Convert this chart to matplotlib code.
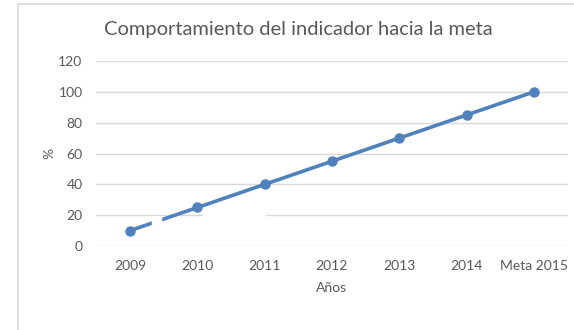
import matplotlib
matplotlib.use("Agg")
import matplotlib.pyplot as plt
from matplotlib.patches import Rectangle
from matplotlib.lines import Line2D

# indicator progress per year, last point is the 2015 target
years = ["2009", "2010", "2011", "2012", "2013", "2014", "Meta 2015"]
values = [10, 25, 40, 55, 70, 85, 100]
y_ticks = [0, 20, 40, 60, 80, 100, 120]

plt.rcParams["font.family"] = ["Lato", "DejaVu Sans"]
text_col = "#595959"
grid_col = "#d9d9d9"
line_col = "#4f81bd"

fig = plt.figure(figsize=(5.74, 3.30), dpi=100)
ax = fig.add_axes([0.168, 0.2545, 0.8207, 0.5605])

x = list(range(len(years)))
ax.plot(x, values, color=line_col, lw=2.6, marker="o", ms=6.5, zorder=3)

ax.set_xlim(-0.5, len(years) - 0.5)
ax.set_ylim(0, 120)
ax.set_yticks(y_ticks)
ax.set_xticks(x)
ax.set_xticklabels(years)
ax.grid(axis="y", color=grid_col, lw=1)
ax.set_axisbelow(True)
for s in ax.spines.values():
    s.set_visible(False)
ax.tick_params(length=0, colors=text_col, labelsize=10, pad=10)
ax.tick_params(axis="x", pad=10)

ax.set_ylabel("%", color=text_col, fontsize=10, labelpad=2)
ax.set_xlabel("Años", color=text_col, fontsize=10, labelpad=7)
fig.text(0.52, 0.91, "Comportamiento del indicador hacia la meta",
         ha="center", va="center", color=text_col, fontsize=14.5)

# white blotches over the series and the 20 gridline
ax.add_patch(Rectangle((0.33, 12.5), 0.13, 6.5, color="white", zorder=5))
ax.add_patch(Rectangle((1.085, 18.5), 0.915, 3, color="white", zorder=1.5))

# chart frame (left and top edges)
fig.add_artist(Line2D([0.031, 0.031], [0, 0.988], color=grid_col, lw=1.2))
fig.add_artist(Line2D([0.031, 1], [0.988, 0.988], color=grid_col, lw=1.2))

fig.savefig("out.png", dpi=100)
